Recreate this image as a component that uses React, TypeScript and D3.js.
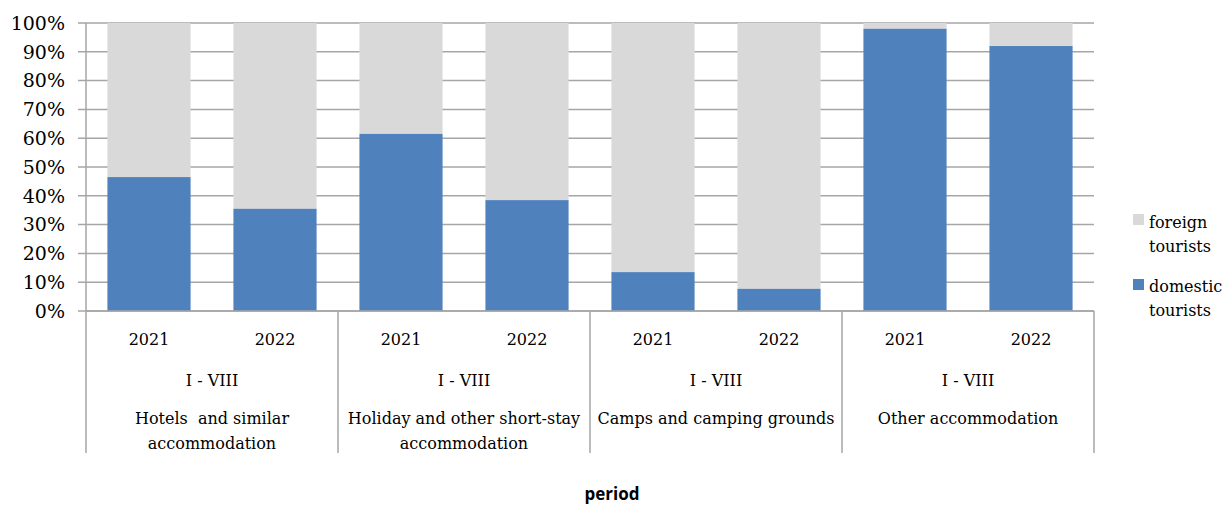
import * as d3 from 'd3'

const groups = [
  ['Hotels  and similar', 'accommodation'],
  ['Holiday and other short-stay', 'accommodation'],
  ['Camps and camping grounds'],
  ['Other accommodation'],
]
const years = ['2021', '2022']
const period = 'I - VIII'
// domestic share (%) per bar, in order group x year
const domestic = [46.5, 35.5, 61.5, 38.5, 13.5, 7.7, 98, 92]
const yTicks = [0, 10, 20, 30, 40, 50, 60, 70, 80, 90, 100]

const W = 1225
const H = 506
const left = 86
const right = 1094
const top = 23
const bottom = 311
const serif = '"DejaVu Serif", serif'

export default function App() {
  const bars = domestic.map((v, i) => ({
    key: `${Math.floor(i / 2)}-${years[i % 2]}`,
    year: years[i % 2],
    group: Math.floor(i / 2),
    domestic: v,
  }))
  const x = d3
    .scaleBand<string>()
    .domain(bars.map(b => b.key))
    .range([left, right])
    .paddingInner(0.34)
    .paddingOuter(0.17)
  const step = x.step()
  const y = d3.scaleLinear().domain([0, 100]).range([bottom, top])

  return (
    <svg width={W} height={H} style={{ position: 'absolute', left: 0, top: 0, background: '#fff' }}>
      {yTicks.map(t => (
        <g key={t}>
          <line x1={left - 8} x2={right} y1={y(t)} y2={y(t)} stroke="#a6a6a6" strokeWidth={1.5} />
          <text x={65} y={y(t)} dy="0.36em" textAnchor="end" fontFamily={serif} fontSize={19} fill="#000">
            {t}%
          </text>
        </g>
      ))}
      {bars.map(b => (
        <g key={b.key}>
          <rect x={x(b.key)} y={y(100)} width={x.bandwidth()} height={y(b.domestic) - y(100)} fill="#d9d9d9" />
          <rect x={x(b.key)} y={y(b.domestic)} width={x.bandwidth()} height={y(0) - y(b.domestic)} fill="#4f81bd" />
          <text x={x(b.key)! + x.bandwidth() / 2} y={345} textAnchor="middle" fontFamily={serif} fontSize={16}>
            {b.year}
          </text>
        </g>
      ))}
      <line x1={left} x2={right} y1={bottom} y2={bottom} stroke="#a6a6a6" strokeWidth={1.5} />
      <line x1={left} x2={left} y1={top} y2={453} stroke="#a6a6a6" strokeWidth={1.5} />
      {d3.range(1, groups.length + 1).map(i => (
        <line key={'d' + i} x1={left + i * step * 2} x2={left + i * step * 2} y1={bottom} y2={453}
          stroke="#a6a6a6" strokeWidth={1.5} />
      ))}
      {groups.map((g, i) => {
        const cx = left + (i + 0.5) * step * 2
        return (
          <g key={i}>
            <text x={cx} y={386} textAnchor="middle" fontFamily={serif} fontSize={16}>{period}</text>
            {g.map((line, j) => (
              <text key={j} x={cx} y={424 + j * 25} textAnchor="middle" fontFamily={serif} fontSize={16}
                style={{ whiteSpace: 'pre' }}>
                {line}
              </text>
            ))}
          </g>
        )
      })}
      <rect x={1133} y={214} width={11} height={11} fill="#d9d9d9" />
      <text x={1149} y={228} fontFamily={serif} fontSize={16}>foreign</text>
      <text x={1149} y={252} fontFamily={serif} fontSize={16}>tourists</text>
      <rect x={1133} y={279} width={11} height={11} fill="#4f81bd" />
      <text x={1149} y={292} fontFamily={serif} fontSize={16}>domestic</text>
      <text x={1149} y={316} fontFamily={serif} fontSize={16}>tourists</text>
      <text x={612} y={500} textAnchor="middle" fontFamily='"Open Sans", sans-serif' fontWeight="bold" fontSize={17}>
        period
      </text>
    </svg>
  )
}
